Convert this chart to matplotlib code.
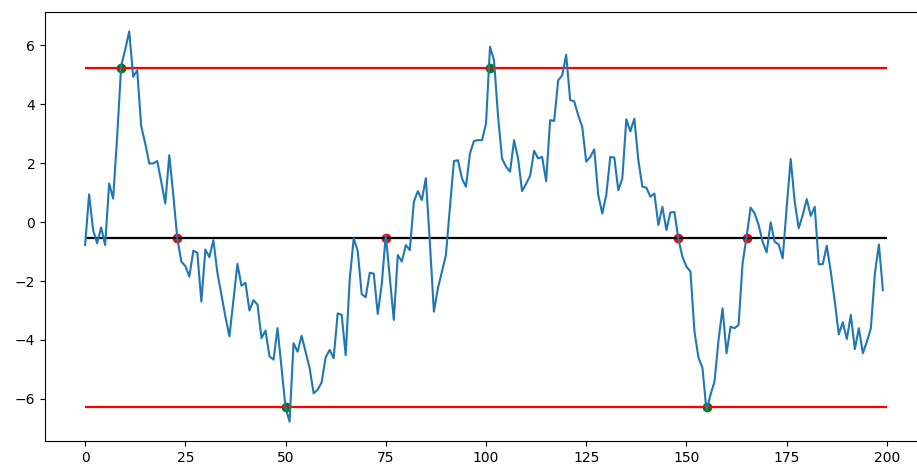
import matplotlib
matplotlib.use("Agg")
import matplotlib.pyplot as plt
import numpy as np

series = [
    -0.78, 0.94, -0.27, -0.72, -0.18, -0.78, 1.31, 0.80, 2.90, 5.30,
    5.85, 6.47, 4.93, 5.15, 3.25, 2.67, 1.99, 1.99, 2.07, 1.37,
    0.63, 2.27, 0.92, -0.55, -1.34, -1.49, -1.85, -0.97, -1.04, -2.70,
    -0.93, -1.19, -0.61, -1.72, -2.47, -3.21, -3.88, -2.64, -1.42, -2.16,
    -2.06, -3.00, -2.65, -2.80, -3.94, -3.68, -4.56, -4.67, -3.60, -4.96,
    -6.30, -6.77, -4.11, -4.40, -3.86, -4.40, -4.95, -5.81, -5.69, -5.44,
    -4.59, -4.34, -4.62, -3.10, -3.15, -4.52, -1.95, -0.55, -0.98, -2.45,
    -2.55, -1.72, -1.75, -3.12, -2.10, -0.44, -1.90, -3.32, -1.12, -1.34,
    -0.78, -0.95, 0.69, 1.05, 0.75, 1.49, -0.70, -3.04, -2.25, -1.68,
    -1.12, 0.50, 2.07, 2.10, 1.48, 1.20, 2.33, 2.75, 2.78, 2.78,
    3.34, 5.95, 5.49, 3.60, 2.16, 1.88, 1.71, 2.78, 2.16, 1.05,
    1.30, 1.57, 2.42, 2.16, 2.21, 1.39, 3.46, 3.43, 4.81, 4.98,
    5.68, 4.14, 4.10, 3.63, 3.23, 2.05, 2.21, 2.47, 0.92, 0.29,
    0.92, 2.21, 2.19, 1.08, 1.48, 3.49, 3.08, 3.51, 2.10, 1.20,
    1.17, 0.86, 0.97, -0.10, 0.52, -0.27, 0.33, 0.34, -0.58, -1.18,
    -1.51, -1.68, -3.72, -4.60, -4.96, -6.40, -5.86, -5.41, -4.00, -2.93,
    -4.45, -3.55, -3.60, -3.49, -1.40, -0.50, 0.49, 0.30, -0.10, -0.67,
    -1.03, -0.01, -0.67, -0.76, -1.23, 0.50, 2.14, 0.69, -0.21, 0.24,
    0.78, 0.21, 0.52, -1.43, -1.43, -0.80, -1.68, -2.70, -3.81, -3.40,
    -3.97, -3.15, -4.31, -3.60, -4.45, -4.06, -3.60, -1.74, -0.76, -2.31,
]

center_level = -0.53
upper_level = 5.24
lower_level = -6.27

band_idx = [9, 50, 101, 155]
band_val = [upper_level, lower_level, upper_level, lower_level]
center_idx = [23, 75, 148, 165]

W, H = 917, 467
DPI = 100
fig = plt.figure(figsize=(W / DPI, H / DPI), dpi=DPI)
ax = fig.add_axes([45 / W, 26 / H, (927 - 45) / W, (441 - 12) / H])

ax.scatter(band_idx, band_val, color="green", s=36, zorder=1)
ax.scatter(center_idx, [center_level] * len(center_idx), color="red", s=36, zorder=1)

x = np.arange(len(series))
ax.plot(x, series, color="#1f77b4", lw=1.5, zorder=3)
ax.hlines(upper_level, 0, len(series), colors="red", lw=1.6, zorder=2)
ax.hlines(lower_level, 0, len(series), colors="red", lw=1.6, zorder=2)
ax.hlines(center_level, 0, len(series), colors="black", lw=1.6, zorder=2)

ax.set_xlim(-10, 210)
ax.set_ylim(-7.43, 7.13)
ax.set_xticks([0, 25, 50, 75, 100, 125, 150, 175, 200])
ax.set_yticks([-6, -4, -2, 0, 2, 4, 6])

fig.savefig("out.png", dpi=DPI)
